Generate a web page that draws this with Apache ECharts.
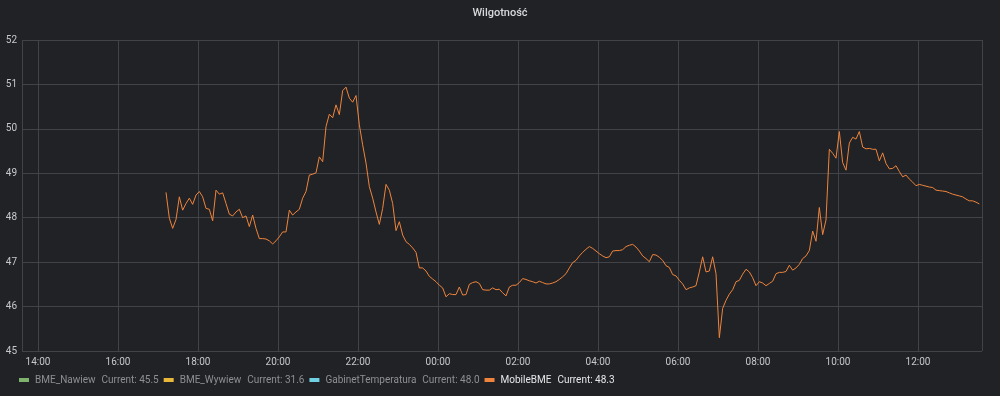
<!DOCTYPE html>
<html>
<head>
<meta charset="utf-8">
<script src="https://cdn.jsdelivr.net/npm/echarts@6/dist/echarts.min.js"></script>
<style>
html,body{margin:0;padding:0;background:#212226;}
#chart{width:1000px;height:396px;}
</style>
</head>
<body>
<div id="chart"></div>
<script>
// ---- data ----
const chartTitle = 'Wilgotność';
const seriesNames = ['BME_Nawiew', 'BME_Wywiew', 'GabinetTemperatura', 'MobileBME'];
const seriesColors = ['#7EB26D', '#EAB839', '#6ED0E0', '#EF843C'];
const currentValues = ['45.5', '31.6', '48.0', '48.3'];
const activeSeries = 'MobileBME';
// first sample 17:12, one sample every 5 minutes
const startStamp = [2021, 5, 14, 17, 12];
const stepMinutes = 5;
const mobileBME = [
48.57,47.99,47.76,47.96,48.47,48.17,48.32,48.44,48.30,48.51,48.59,48.47,48.21,48.19,47.93,48.62,48.53,48.56,48.32,48.08,48.04,48.13,48.19,48.00,48.04,47.80,48.06,47.76,47.53,47.53,47.52,47.48,47.41,47.48,47.57,47.68,47.68,48.17,48.06,48.13,48.19,
48.44,48.59,48.96,48.98,49.01,49.37,49.26,50.05,50.33,50.25,50.54,50.32,50.86,50.94,50.69,50.60,50.75,50.09,49.64,49.23,48.70,48.44,48.13,47.85,48.21,48.75,48.62,48.32,47.71,47.91,47.61,47.46,47.40,47.32,47.22,46.87,46.87,46.80,46.68,
46.62,46.56,46.48,46.42,46.22,46.29,46.27,46.27,46.44,46.26,46.27,46.50,46.54,46.56,46.52,46.38,46.37,46.37,46.42,46.38,46.39,46.31,46.24,46.44,46.48,46.48,46.54,46.63,46.61,46.58,46.56,46.53,46.57,46.54,46.51,46.51,46.53,46.56,46.61,46.67,
46.74,46.87,46.99,47.04,47.14,47.22,47.29,47.35,47.31,47.25,47.19,47.14,47.10,47.12,47.25,47.26,47.26,47.28,47.35,47.38,47.40,47.34,47.25,47.14,47.08,47.01,47.17,47.16,47.11,47.04,46.92,46.88,46.72,46.69,46.59,46.51,46.38,46.42,46.44,46.47,
46.78,47.12,46.78,46.80,47.12,46.74,45.30,45.96,46.14,46.28,46.38,46.56,46.59,46.73,46.84,46.78,46.65,46.47,46.56,46.53,46.47,46.52,46.57,46.74,46.77,46.77,46.79,46.93,46.82,46.87,46.95,47.08,47.14,47.26,47.70,47.47,48.23,47.62,47.95,
49.54,49.45,49.34,49.94,49.24,49.07,49.68,49.81,49.77,49.94,49.59,49.55,49.56,49.54,49.54,49.28,49.46,49.22,49.10,49.11,49.17,49.04,48.92,48.96,48.87,48.80,48.72,48.75,48.73,48.71,48.69,48.68,48.62,48.61,48.60,48.59,48.56,48.53,48.51,48.49,48.47,48.42,48.38,48.38,48.35,48.31
];
// visible time window: 13:36 -> 13:36 next day
const windowStart = [2021, 5, 14, 13, 36];
const windowEnd = [2021, 5, 15, 13, 36];
const yMin = 45, yMax = 52, yStep = 1;
const xSplitNumber = 10; // gives 2-hour ticks

// ---- build ----
const mk = a => new Date(a[0], a[1], a[2], a[3], a[4]).getTime();
const t0 = mk(startStamp);
const mobileData = mobileBME.map((v, i) => [t0 + i * stepMinutes * 60000, v]);

const series = seriesNames.map((name, i) => ({
  name: name,
  type: 'line',
  data: name === activeSeries ? mobileData : [],
  showSymbol: false,
  symbol: 'none',
  color: seriesColors[i],
  lineStyle: { width: 1, color: seriesColors[i] },
  animation: false
}));

const chart = echarts.init(document.getElementById('chart'), null, { renderer: 'canvas' });
const FONT = 'Roboto, "Open Sans", sans-serif';
chart.setOption({
  backgroundColor: '#212226',
  animation: false,
  title: {
    text: chartTitle,
    left: 'center',
    top: 3,
    textStyle: { color: '#d8d9da', fontSize: 11, fontWeight: 500, fontFamily: FONT }
  },
  grid: { left: 22, right: 18, top: 40, bottom: 45, containLabel: false },
  legend: {
    left: 19,
    top: 375,
    padding: 0,
    itemWidth: 10,
    itemHeight: 4,
    itemGap: 5,
    icon: 'rect',
    selectedMode: false,
    data: seriesNames.map(n => ({ name: n })),
    formatter: function (name) {
      const idx = seriesNames.indexOf(name);
      const k = name === activeSeries ? 'b' : 'd';
      return '{' + k + 'n|' + name + '}{' + k + 'c|Current: ' + currentValues[idx] + '}';
    },
    textStyle: {
      fontFamily: FONT,
      fontSize: 10,
      rich: {
        dn: { color: '#8e8f93', fontSize: 10, fontFamily: FONT, padding: [0, 6, 0, 1] },
        dc: { color: '#8e8f93', fontSize: 10, fontFamily: FONT },
        bn: { color: '#e6e7e8', fontSize: 10, fontFamily: FONT, padding: [0, 6, 0, 1] },
        bc: { color: '#e6e7e8', fontSize: 10, fontFamily: FONT }
      }
    }
  },
  xAxis: {
    type: 'time',
    min: mk(windowStart),
    max: mk(windowEnd),
    splitNumber: xSplitNumber,
    axisLine: { show: false },
    axisTick: { show: false },
    splitLine: { show: true, lineStyle: { color: '#424348', width: 1 } },
    axisLabel: {
      color: '#c7c8cb',
      fontSize: 10,
      fontFamily: FONT,
      margin: 6,
      showMinLabel: false,
      showMaxLabel: false,
      hideOverlap: false,
      formatter: function (v) { return echarts.time.format(v, '{HH}:{mm}', false); }
    }
  },
  yAxis: {
    type: 'value',
    min: yMin,
    max: yMax,
    interval: yStep,
    axisLine: { show: false },
    axisTick: { show: false },
    splitLine: { show: true, lineStyle: { color: '#424348', width: 1 } },
    axisLabel: { color: '#c7c8cb', fontSize: 10, fontFamily: FONT, margin: 5 }
  },
  series: series
});
</script>
</body>
</html>
